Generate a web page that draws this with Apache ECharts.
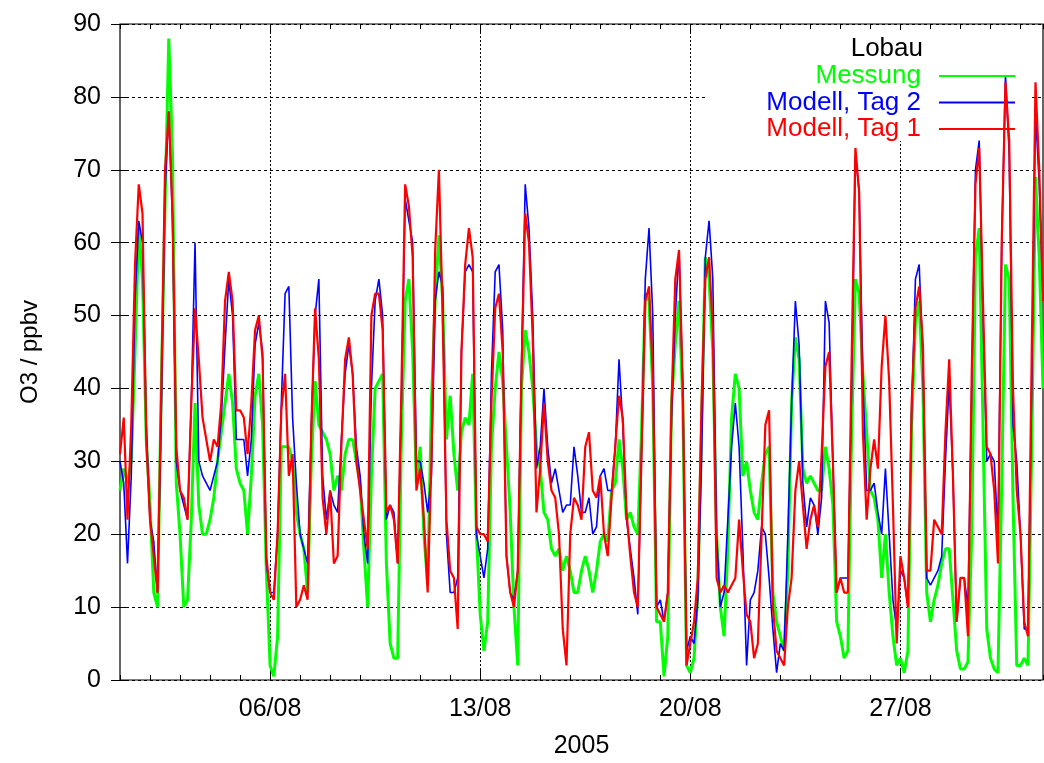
<!DOCTYPE html>
<html>
<head>
<meta charset="utf-8">
<title>Lobau O3</title>
<script src="https://cdn.jsdelivr.net/npm/echarts@6/dist/echarts.min.js"></script>
<style>
  html, body { margin: 0; padding: 0; background: #fff; }
  #chart { width: 1044px; height: 763px; }
</style>
</head>
<body>
<div id="chart"></div>
<script>
// Ozone at Lobau, August 2005: measurement vs. model (forecast day 1 and day 2).
// Values every 3 hours, starting 01/08/2005 00:00.
const STEP_HOURS = 3;
const tickLabels = ['06/08', '13/08', '20/08', '27/08'];
const seriesNames = ['Messung', 'Modell, Tag 2', 'Modell, Tag 1'];

const messung = [
  26, 29, 27, 30, 45, 62, 55, 33, 24, 12, 10, 40, 65, 88, 72, 27,
  20, 10, 11, 22, 38, 24, 20, 20, 22, 25, 30, 34, 38, 42, 38, 29,
  27, 26, 20, 28, 39, 42, 35, 15, 2, 0.5, 6, 32, 32, 32, 30, 23,
  20, 18, 12, 30, 41, 35, 34, 33, 31, 26, 28, 26, 31, 33, 33, 30,
  27, 18, 10, 28, 40, 41, 42, 16, 5, 3, 3, 33, 52, 55, 45, 27,
  32, 20, 13, 38, 52, 61, 52, 33, 39, 31, 26, 34, 36, 35, 42, 20,
  9, 4, 8, 32, 40, 45, 41, 32, 23, 10, 2, 40, 48, 45, 40, 32,
  29, 23, 22, 18, 17, 18, 15, 17, 15, 12, 12, 15, 17, 15, 12, 15,
  19, 20, 19, 26, 27, 33, 29, 22, 23, 21, 20, 34, 53, 52, 40, 8,
  8, 0.5, 6, 38, 46, 52, 38, 2, 1, 3, 12, 35, 58, 55, 45, 20,
  10, 6, 18, 36, 42, 40, 28, 30, 26, 23, 22, 27, 31, 32, 12, 8,
  6, 4, 15, 38, 47, 44, 29, 27, 28, 27, 26, 26, 32, 29, 24, 8,
  6, 3, 4, 34, 55, 53, 42, 34, 26, 25, 22, 14, 20, 12, 6, 2,
  3, 1, 4, 35, 49, 52, 40, 12, 8, 11, 13, 16, 18, 18, 11, 4,
  1.5, 1.5, 2.5, 20, 58, 62, 35, 7, 3, 1.5, 1, 27, 57, 55, 25, 2,
  2, 3, 2, 32, 69, 58, 40
];

const modellTag2 = [
  30, 27, 16, 28, 52, 63, 60, 35, 22, 19, 12, 36, 67, 78, 63, 30,
  26, 24, 22, 38, 60, 30, 28, 27, 26, 28, 30, 36, 46, 55, 50, 33,
  33, 33, 28, 33, 46, 49, 45, 16, 12, 12, 20, 38, 53, 54, 36, 27,
  20, 18, 16, 35, 50, 55, 28, 22, 26, 24, 23, 33, 42, 46, 42, 32,
  28, 20, 16, 40, 52, 55, 50, 22, 24, 23, 16, 38, 66, 63, 60, 30,
  30, 27, 23, 28, 52, 56, 54, 20, 12, 12, 14, 45, 56, 57, 56, 20,
  17, 14, 18, 42, 56, 57, 48, 17, 12, 11, 15, 43, 68, 62, 50, 29,
  32, 40, 32, 27, 29, 26, 23, 24, 24, 32, 28, 23, 23, 25, 20, 21,
  28, 29, 26, 26, 32, 44, 35, 22, 18, 14, 9, 31, 55, 62, 50, 10,
  11, 8, 12, 36, 50, 59, 40, 4, 6, 5, 11, 30, 58, 63, 55, 20,
  10, 12, 22, 32, 38, 32, 18, 2, 11, 12, 15, 21, 20, 14, 7, 1,
  5, 4, 20, 38, 52, 46, 27, 21, 25, 24, 20, 25, 52, 49, 30, 12,
  14, 14, 14, 40, 72, 67, 41, 26, 26, 27, 23, 20, 29, 20, 11, 7,
  15, 14, 10, 37, 55, 57, 44, 14, 13, 14, 15, 17, 30, 41, 28, 8,
  14, 14, 10, 40, 70, 74, 50, 30, 31, 30, 20, 60, 83, 72, 35, 30,
  20, 7, 7, 40, 78, 68, 52
];

const modellTag1 = [
  31, 36, 22, 35, 57, 68, 64, 33, 22, 17, 12, 40, 70, 78, 64, 32,
  26, 25, 22, 38, 51, 44, 36, 33, 30, 33, 32, 38, 52, 56, 52, 37,
  37, 36, 31, 38, 48, 50, 44, 17, 12, 11, 20, 37, 42, 28, 31, 10,
  11, 13, 11, 35, 51, 44, 25, 20, 26, 16, 17, 32, 44, 47, 42, 30,
  26, 22, 18, 50, 53, 53, 48, 23, 24, 22, 16, 40, 68, 65, 58, 26,
  29, 22, 12, 30, 59, 70, 50, 22, 15, 14, 7, 45, 57, 62, 58, 21,
  20, 20, 19, 38, 51, 53, 45, 17, 12, 10, 15, 42, 64, 60, 47, 23,
  29, 38, 30, 26, 25, 20, 7, 2, 20, 25, 24, 22, 32, 34, 26, 25,
  28, 20, 17, 25, 32, 39, 36, 23, 17, 12, 10, 31, 52, 54, 42, 10,
  9, 8, 12, 38, 55, 59, 40, 2, 5, 8, 14, 38, 55, 58, 48, 14,
  12, 13, 12, 13, 14, 22, 15, 9, 8, 3, 5, 20, 35, 37, 10, 4,
  3, 2, 10, 14, 26, 30, 24, 18, 22, 24, 21, 31, 43, 45, 30, 12,
  14, 12, 12, 44, 73, 67, 34, 22, 29, 33, 29, 43, 50, 41, 24, 5,
  17, 14, 10, 38, 51, 54, 46, 15, 15, 22, 21, 20, 34, 44, 28, 8,
  14, 14, 6, 42, 68, 73, 52, 32, 31, 26, 16, 60, 82, 74, 40, 26,
  20, 8, 6, 45, 82, 70, 52
];

// hour offset (from 01/08 00:00) of each labelled date "dd/mm"
const majorHours = tickLabels.map(s => (parseInt(s.slice(0, 2), 10) - 1) * 24);
const endHour = (messung.length - 1) * STEP_HOURS;
const toPairs = arr => arr.map((v, i) => [i * STEP_HOURS, v]);

const FONT = '"Liberation Sans", Arial, Helvetica, sans-serif';
const colors = ['#00ff00', '#0000ff', '#ff0000'];
const widths = [3, 1.6, 2.2];
const values = [messung, modellTag2, modellTag1];

const chart = echarts.init(document.getElementById('chart'), null, { renderer: 'canvas' });

const minorAxis = pos => ({
  type: 'value', min: 0, max: endHour, interval: 24, position: pos,
  axisLine: { show: false },
  axisTick: { show: true, inside: true, length: 5, lineStyle: { color: '#000', width: 1 } },
  axisLabel: { show: false },
  splitLine: { show: false }
});

chart.setOption({
  animation: false,
  backgroundColor: '#fff',
  textStyle: { fontFamily: FONT },
  title: {
    text: 'Lobau',
    right: 116, top: 31,
    textStyle: { fontFamily: FONT, fontSize: 26, fontWeight: 'normal', color: '#000' }
  },
  legend: {
    data: seriesNames.map((name, k) => ({ name, textStyle: { color: colors[k] } })),
    orient: 'vertical',
    align: 'right',
    right: 23, top: 58,
    itemWidth: 76, itemHeight: 14, itemGap: 0.5,
    itemStyle: { color: 'rgba(0,0,0,0)', borderWidth: 0 },
    textStyle: { fontFamily: FONT, fontSize: 26, padding: [0, 13, 0, 0] },
    selectedMode: false
  },
  grid: {
    left: 120, right: 1, top: 24, bottom: 83,
    containLabel: false,
    outerBoundsMode: 'none',
    show: true, borderColor: '#000', borderWidth: 1.2, backgroundColor: 'transparent'
  },
  graphic: [{
    type: 'rect', z: 1, silent: true,
    shape: { x: 708, y: 30, width: 324, height: 111 },
    style: { fill: '#fff' }
  }],
  xAxis: [
    {
      type: 'value', min: 0, max: endHour, position: 'bottom',
      name: '2005', nameLocation: 'middle', nameGap: 54,
      nameTextStyle: { fontFamily: FONT, fontSize: 25, color: '#000' },
      axisLine: { show: false },
      axisTick: { show: true, inside: true, length: 10, customValues: majorHours,
                  lineStyle: { color: '#000', width: 1 } },
      axisLabel: {
        customValues: majorHours,
        formatter: v => tickLabels[majorHours.indexOf(v)] || '',
        fontFamily: FONT, fontSize: 25, color: '#000', margin: 17
      },
      splitLine: { show: true, lineStyle: { color: '#000', width: 1, type: [2, 2] } }
    },
    minorAxis('bottom'),
    minorAxis('top'),
    {
      type: 'value', min: 0, max: endHour, position: 'top',
      axisLine: { show: false },
      axisTick: { show: true, inside: true, length: 10, customValues: majorHours,
                  lineStyle: { color: '#000', width: 1 } },
      axisLabel: { show: false },
      splitLine: { show: false }
    }
  ],
  yAxis: [
    {
      type: 'value', min: 0, max: 90, interval: 10, position: 'left',
      name: 'O3 / ppbv', nameLocation: 'middle', nameGap: 78, nameRotate: 90,
      nameTextStyle: { fontFamily: FONT, fontSize: 24, color: '#000' },
      axisLine: { show: false },
      axisTick: { show: true, inside: true, length: 9, lineStyle: { color: '#000', width: 1 } },
      axisLabel: { fontFamily: FONT, fontSize: 25, color: '#000', margin: 19 },
      splitLine: { show: true, lineStyle: { color: '#000', width: 1, type: [3, 3] } }
    },
    {
      type: 'value', min: 0, max: 90, interval: 10, position: 'right',
      axisLine: { show: false },
      axisTick: { show: true, inside: true, length: 9, lineStyle: { color: '#000', width: 1 } },
      axisLabel: { show: false },
      splitLine: { show: false }
    }
  ],
  series: seriesNames.map((name, k) => ({
    name,
    type: 'line',
    xAxisIndex: 0, yAxisIndex: 0,
    data: toPairs(values[k]),
    symbol: 'none',
    showSymbol: false,
    color: colors[k],
    lineStyle: { color: colors[k], width: widths[k] },
    z: 2 + k,
    silent: true
  }))
});
</script>
</body>
</html>
